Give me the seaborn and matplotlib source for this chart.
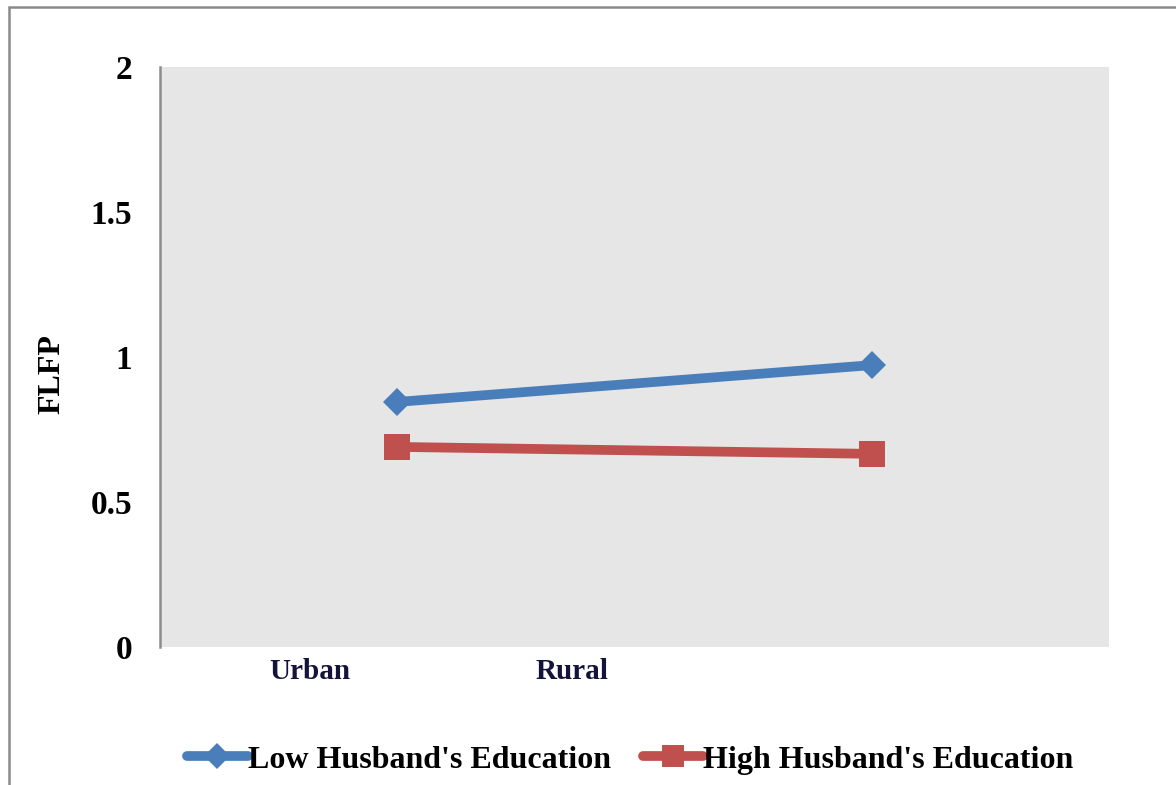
import matplotlib
matplotlib.use("Agg")
import matplotlib.pyplot as plt
from matplotlib.lines import Line2D
from matplotlib.patches import Rectangle
import seaborn as sns
import pandas as pd

# Data
categories = ["Urban", "Rural"]
series_names = ["Low Husband's Education", "High Husband's Education"]
low_edu = [0.845, 0.972]
high_edu = [0.69, 0.666]
y_ticks = [0, 0.5, 1, 1.5, 2]
y_tick_labels = ["0", "0.5", "1", "1.5", "2"]

blue = "#4a7ebb"
red = "#c0504d"

sns.set_style("white")
plt.rcParams["font.family"] = ["Liberation Serif", "DejaVu Serif"]
plt.rcParams["font.weight"] = "bold"
plt.rcParams["text.color"] = "black"
plt.rcParams["axes.labelcolor"] = "black"
plt.rcParams["ytick.labelcolor"] = "black"

fig = plt.figure(figsize=(11.76, 7.85), dpi=100)
ax = fig.add_axes([160 / 1176, 138 / 785, 949 / 1176, 580 / 785])
ax.set_facecolor("#e6e6e6")

df = pd.DataFrame({
    "pos": [0, 1, 0, 1],
    "FLFP": low_edu + high_edu,
    "series": [series_names[0]] * 2 + [series_names[1]] * 2,
})

sns.lineplot(data=df[df.series == series_names[0]], x="pos", y="FLFP", ax=ax,
             color=blue, lw=7, marker="D", ms=14, mew=0, legend=False)
sns.lineplot(data=df[df.series == series_names[1]], x="pos", y="FLFP", ax=ax,
             color=red, lw=7, marker="s", ms=19, mew=0, legend=False)

ax.set_xlim(-0.5, 1.5)
ax.set_ylim(0, 2)
ax.set_yticks(y_ticks)
ax.set_yticklabels(y_tick_labels, fontsize=24, fontweight="bold", color="black")
ax.set_xticks([-0.184, 0.368])
ax.set_xticklabels(categories, fontsize=21, fontweight="bold", color="#14143a")
ax.tick_params(axis="x", length=0, pad=8)
ax.tick_params(axis="y", length=8, width=1.5, color="#8c8c8c", direction="out", pad=12)
ax.set_xlabel("")
ax.set_ylabel("FLFP", fontsize=23, fontweight="bold", color="black")
ax.yaxis.set_label_coords(-0.099, 0.47)

for side in ["top", "right", "bottom"]:
    ax.spines[side].set_visible(False)
ax.spines["left"].set_color("#8c8c8c")
ax.spines["left"].set_linewidth(1.8)

handles = [
    Line2D([], [], color=blue, lw=7, marker="D", ms=13, mew=0),
    Line2D([], [], color=red, lw=7, marker="s", ms=16, mew=0),
]
fig.legend(handles, series_names, loc="center", bbox_to_anchor=(0.536, 0.032),
           ncol=2, frameon=False, handlelength=1.9,
           handletextpad=0.0, columnspacing=1.0, numpoints=1,
           prop={"weight": "bold", "size": 23}, labelcolor="black")

# outer chart frame
fig.patches.append(Rectangle((9 / 1176, -0.1), 1.2, 1.1 - 7 / 785, transform=fig.transFigure,
                             fill=False, edgecolor="#8a8a8a", lw=1.8, clip_on=False))

fig.savefig("out.png", dpi=100)
